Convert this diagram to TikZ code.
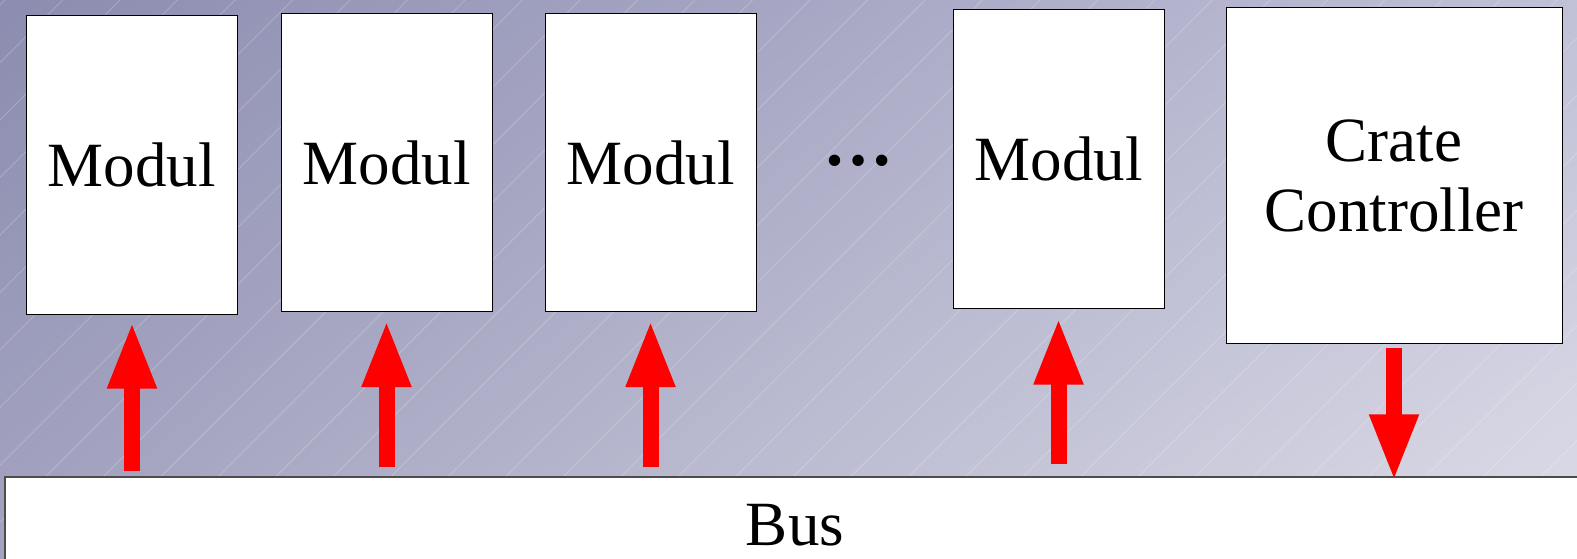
\documentclass[tikz,border=0pt]{standalone}
\usepackage{fontspec}
\setmainfont{Liberation Serif}
\usetikzlibrary{
  arrows.meta,  % Tip "Triangle" for the block arrows
  positioning,
  shadings,     % Four-corner shading of the backdrop
}
\definecolor{bgUL}{RGB}{140,140,176}
\definecolor{bgUR}{RGB}{192,192,215}
\definecolor{bgLL}{RGB}{164,164,193}
\definecolor{bgLR}{RGB}{221,221,232}
\tikzset{
  big text/.style={
    font=\fontsize{63}{70}\selectfont
  },
  modul/.style={
    draw,
    fill=white,
    line width=1pt,
    inner sep=0pt,
    minimum width=211pt,
    minimum height=298pt,
    big text
  },
  ctrl/.style={
    modul,
    minimum width=336pt,
    minimum height=335pt,
    align=center
  },
  bus/.style={
    draw=black!70,
    fill=white,
    line width=1.2pt,
    inner sep=0pt,
    minimum width=1580pt,
    minimum height=96pt,
    big text
  },
  bus arrow/.style={
    draw=red,
    line width=16pt,
    -{Triangle[length=67pt,width=45pt]}
  },
  stripe/.style={
    white,
    opacity=0.22,
    line width=0.8pt
  }
}

\begin{document}
\begin{tikzpicture}[x=1pt,y=-1pt]
\useasboundingbox (0,0) rectangle (1577,559);
% backdrop with thin diagonal stripes
\shade[upper left=bgUL,upper right=bgUR,lower left=bgLL,lower right=bgLR]
  (0,0) rectangle (1577,559);
\begin{scope}
  \clip (0,0) rectangle (1577,559);
  \foreach \s in {0,...,38}
    \draw[stripe] (5+57.5*\s,0) -- ++(-580,580);
\end{scope}

\node[modul]    (m1)   at (132,165)     {Modul};
\node[modul]    (m2)   at (386.5,162.5) {Modul};
\node[modul]    (m3)   at (650.5,162.5) {Modul};
\node[font=\fontsize{70}{70}\selectfont\bfseries]
                (dots) at (858,161)     {…};
\node[modul]    (m4)   at (1058.5,159)  {Modul};
\node[ctrl]     (cc)   at (1394,175.5)  {Crate\\Controller};
\node[bus]      (bus)  at (795,525)     {Bus};

% bus -> modules, controller -> bus
\draw[bus arrow,shorten <=5pt,shorten >=7pt]  (bus.north -| m1) -- (m1.south);
\draw[bus arrow,shorten <=9pt,shorten >=8pt]  (bus.north -| m2) -- (m2.south);
\draw[bus arrow,shorten <=9pt,shorten >=8pt]  (bus.north -| m3) -- (m3.south);
\draw[bus arrow,shorten <=12pt,shorten >=9pt] (bus.north -| m4) -- (m4.south);
\draw[bus arrow,shorten <=4pt,shorten >=-5pt] (cc.south) -- (cc.south |- bus.north);
\end{tikzpicture}
\end{document}
